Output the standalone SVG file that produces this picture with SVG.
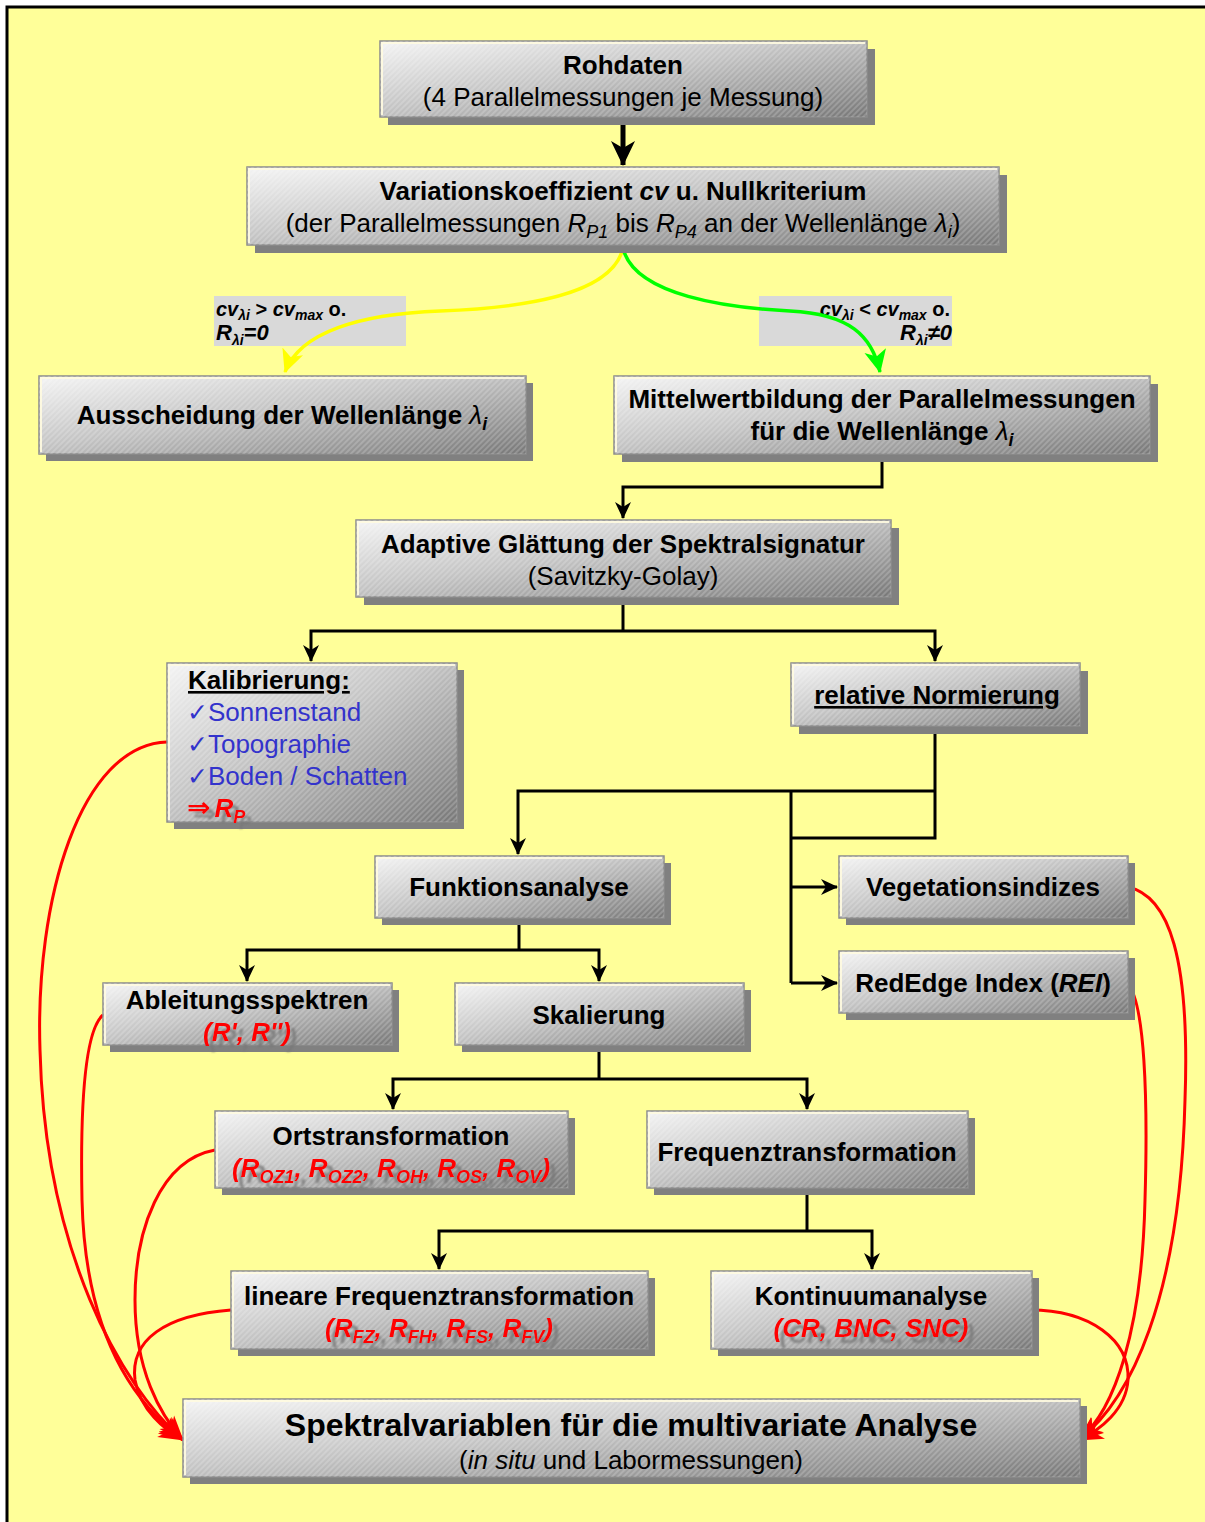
<svg xmlns="http://www.w3.org/2000/svg" width="1205" height="1522" viewBox="0 0 1205 1522">
  <defs>
    <style>
      .t  { font-family: "Liberation Sans", Arial, sans-serif; font-size: 26px; fill: #000; text-anchor: middle; }
      .big { font-size: 32px; }
      .b  { font-weight: bold; }
      .i  { font-style: italic; }
      .st { text-anchor: start; }
      .red { fill: #ff0000; font-weight: bold; font-style: italic; filter: url(#tshadow); }
      .blue { fill: #3333cc; }
      .chk { font-family: "DejaVu Sans", sans-serif; font-size: 25px; }
      .arw { font-family: "DejaVu Sans", sans-serif; font-size: 28px; font-style: normal; font-weight: bold; }
      .sub { font-size: 18px; }
      .lbl { font-family: "Liberation Sans", Arial, sans-serif; font-size: 20px; font-weight: bold; fill: #000; }
      .lsub { font-size: 14px; font-style: italic; }
      .lbig { font-size: 22px; font-style: italic; }
      .shadow { fill: #808080; }
      .box { fill: url(#boxgrad); stroke: #8c8c8c; stroke-width: 1.5; }
      .tex { fill: url(#hatch); }
      .hl  { fill: none; stroke: #fffbe0; stroke-width: 2; stroke-opacity: 0.9; }
      .conn { fill: none; stroke: #000; stroke-width: 3; }
      .rc { fill: none; stroke: #ff0000; stroke-width: 3; marker-end: url(#arrRed); }
      .tag { fill: #d9d9d9; }
    </style>
    <linearGradient id="boxgrad" x1="0" y1="0" x2="1" y2="1">
      <stop offset="0" stop-color="#f4f4f4"/>
      <stop offset="0.45" stop-color="#c4c4c4"/>
      <stop offset="1" stop-color="#787878"/>
    </linearGradient>
    <pattern id="hatch" width="4" height="4" patternUnits="userSpaceOnUse" patternTransform="rotate(45)">
      <path d="M1,0 L1,4" stroke="#ffffff" stroke-opacity="0.3" stroke-width="1.2"/>
    </pattern>
    <filter id="tshadow" x="-10%" y="-30%" width="130%" height="180%">
      <feOffset in="SourceAlpha" dx="6" dy="6" result="off"/>
      <feGaussianBlur in="off" stdDeviation="1" result="bl"/>
      <feFlood flood-color="#777777" flood-opacity="0.8"/>
      <feComposite in2="bl" operator="in" result="sh"/>
      <feMerge><feMergeNode in="sh"/><feMergeNode in="SourceGraphic"/></feMerge>
    </filter>
    <marker id="arrBlk" markerUnits="userSpaceOnUse" markerWidth="18" markerHeight="18" refX="16" refY="9" orient="auto">
      <path d="M0,1 L17,9 L0,17 L5,9 z" fill="#000"/>
    </marker>
    <marker id="arrBlkL" markerUnits="userSpaceOnUse" markerWidth="26" markerHeight="26" refX="24" refY="13" orient="auto">
      <path d="M0,1 L25,13 L0,25 L7,13 z" fill="#000"/>
    </marker>
    <marker id="arrYel" markerUnits="userSpaceOnUse" markerWidth="24" markerHeight="24" refX="22" refY="12" orient="auto">
      <path d="M0,1 L23,12 L0,23 L6,12 z" fill="#ffff00"/>
    </marker>
    <marker id="arrGrn" markerUnits="userSpaceOnUse" markerWidth="24" markerHeight="24" refX="22" refY="12" orient="auto">
      <path d="M0,1 L23,12 L0,23 L6,12 z" fill="#00ff00"/>
    </marker>
    <marker id="arrRed" markerUnits="userSpaceOnUse" markerWidth="26" markerHeight="22" refX="24" refY="11" orient="auto">
      <path d="M0,1 L25,11 L0,21 L7,11 z" fill="#ff0000"/>
    </marker>
  </defs>

  <!-- page background and frame -->
  <rect x="0" y="0" width="1205" height="1522" fill="#ffffff"/>
  <rect x="7" y="7" width="1212" height="1530" fill="#ffff99" stroke="#000" stroke-width="3"/>

  <!-- condition tags (drawn below the branch curves) -->
  <g id="tag-reject">
    <rect class="tag" x="214" y="296" width="192" height="50"/>
    <text class="lbl" x="216" y="316"><tspan font-style="italic">cv</tspan><tspan class="lsub" dy="4">λi</tspan><tspan dy="-4"> &gt; </tspan><tspan font-style="italic">cv</tspan><tspan class="lsub" dy="4">max</tspan><tspan dy="-4"> o.</tspan></text>
    <text class="lbl" x="216" y="340"><tspan class="lbig">R</tspan><tspan class="lsub" dy="5">λi</tspan><tspan class="lbig" dy="-5">=0</tspan></text>
  </g>
  <g id="tag-accept">
    <rect class="tag" x="759" y="296" width="193" height="50"/>
    <text class="lbl" x="950" y="316" text-anchor="end"><tspan font-style="italic">cv</tspan><tspan class="lsub" dy="4">λi</tspan><tspan dy="-4"> &lt; </tspan><tspan font-style="italic">cv</tspan><tspan class="lsub" dy="4">max</tspan><tspan dy="-4"> o.</tspan></text>
    <text class="lbl" x="952" y="340" text-anchor="end"><tspan class="lbig">R</tspan><tspan class="lsub" dy="5">λi</tspan><tspan class="lbig" dy="-5">≠0</tspan></text>
  </g>

  <!-- connectors -->
  <g id="connectors">
    <path d="M623,117 L623,165" fill="none" stroke="#000" stroke-width="5" marker-end="url(#arrBlkL)"/>
    <path d="M623,248 C612,296 520,308 440,311 C360,314 300,332 285,372" fill="none" stroke="#ffff00" stroke-width="3.5" marker-end="url(#arrYel)"/>
    <path d="M623,248 C634,296 730,308 790,311 C850,314 872,336 880,372" fill="none" stroke="#00ff00" stroke-width="3.5" marker-end="url(#arrGrn)"/>
    <path class="conn" d="M882,455 L882,487 L623,487 L623,518" marker-end="url(#arrBlk)"/>
    <path class="conn" d="M623,597 L623,631"/>
    <path class="conn" d="M623,631 L311,631 L311,661" marker-end="url(#arrBlk)"/>
    <path class="conn" d="M623,631 L935,631 L935,661" marker-end="url(#arrBlk)"/>
    <path class="conn" d="M935,726 L935,838 L791,838"/>
    <path class="conn" d="M935,791 L518,791 L518,854" marker-end="url(#arrBlk)"/>
    <path class="conn" d="M791,791 L791,983"/>
    <path class="conn" d="M791,887 L837,887" marker-end="url(#arrBlk)"/>
    <path class="conn" d="M791,983 L837,983" marker-end="url(#arrBlk)"/>
    <path class="conn" d="M519,917 L519,950"/>
    <path class="conn" d="M519,950 L247,950 L247,981" marker-end="url(#arrBlk)"/>
    <path class="conn" d="M519,950 L599,950 L599,981" marker-end="url(#arrBlk)"/>
    <path class="conn" d="M599,1044 L599,1079"/>
    <path class="conn" d="M599,1079 L393,1079 L393,1109" marker-end="url(#arrBlk)"/>
    <path class="conn" d="M599,1079 L807,1079 L807,1109" marker-end="url(#arrBlk)"/>
    <path class="conn" d="M807,1187 L807,1231"/>
    <path class="conn" d="M807,1231 L439,1231 L439,1269" marker-end="url(#arrBlk)"/>
    <path class="conn" d="M807,1231 L872,1231 L872,1269" marker-end="url(#arrBlk)"/>
    <!-- red result links into the final box -->
    <path class="rc" d="M167,742 C80,745 35,900 40,1050 C45,1250 120,1385 183,1440"/>
    <path class="rc" d="M103,1015 C85,1030 80,1100 82,1200 C85,1330 130,1400 183,1440"/>
    <path class="rc" d="M215,1150 C160,1160 135,1230 135,1300 C135,1370 160,1415 183,1440"/>
    <path class="rc" d="M231,1310 C165,1315 130,1340 135,1380 C140,1410 165,1430 183,1440"/>
    <path class="rc" d="M1127,887 C1170,895 1190,960 1185,1100 C1180,1300 1130,1400 1079,1440"/>
    <path class="rc" d="M1127,983 C1145,1000 1148,1100 1145,1200 C1142,1330 1115,1410 1079,1440"/>
    <path class="rc" d="M1030,1310 C1090,1310 1130,1340 1128,1380 C1126,1410 1100,1430 1079,1440"/>
  </g>

  <!-- nodes -->
  <g id="rohdaten">
    <rect class="shadow" x="388" y="49" width="487" height="76"/>
    <rect class="box" x="380" y="41" width="487" height="76"/>
    <rect class="tex" x="380" y="41" width="487" height="76"/>
    <path class="hl" d="M382,115 L382,43 L865,43"/>
    <text class="t b" x="623" y="74">Rohdaten</text>
    <text class="t" x="623" y="106">(4 Parallelmessungen je Messung)</text>
  </g>

  <g id="variationskoeffizient">
    <rect class="shadow" x="255" y="175" width="752" height="78"/>
    <rect class="box" x="247" y="167" width="752" height="78"/>
    <rect class="tex" x="247" y="167" width="752" height="78"/>
    <path class="hl" d="M249,243 L249,169 L997,169"/>
    <text class="t b" x="623" y="200">Variationskoeffizient <tspan class="i">cv</tspan> u. Nullkriterium</text>
    <text class="t" x="623" y="232">(der Parallelmessungen <tspan class="i">R</tspan><tspan class="i sub" dy="6">P1</tspan><tspan dy="-6"> bis </tspan><tspan class="i">R</tspan><tspan class="i sub" dy="6">P4</tspan><tspan dy="-6"> an der Wellenlänge </tspan><tspan class="i">λ</tspan><tspan class="i sub" dy="6">i</tspan><tspan dy="-6">)</tspan></text>
  </g>

  <g id="ausscheidung">
    <rect class="shadow" x="46" y="383" width="487" height="78"/>
    <rect class="box" x="39" y="376" width="487" height="78"/>
    <rect class="tex" x="39" y="376" width="487" height="78"/>
    <path class="hl" d="M41,452 L41,378 L524,378"/>
    <text class="t b" x="282" y="424">Ausscheidung der Wellenlänge <tspan class="i" font-weight="normal">λ</tspan><tspan class="i sub" dy="6">i</tspan></text>
  </g>

  <g id="mittelwertbildung">
    <rect class="shadow" x="622" y="384" width="536" height="78"/>
    <rect class="box" x="614" y="376" width="536" height="78"/>
    <rect class="tex" x="614" y="376" width="536" height="78"/>
    <path class="hl" d="M616,452 L616,378 L1148,378"/>
    <text class="t b" x="882" y="408">Mittelwertbildung der Parallelmessungen</text>
    <text class="t b" x="882" y="440">für die Wellenlänge <tspan class="i" font-weight="normal">λ</tspan><tspan class="i sub" dy="6">i</tspan></text>
  </g>

  <g id="glaettung">
    <rect class="shadow" x="364" y="528" width="535" height="77"/>
    <rect class="box" x="356" y="520" width="535" height="77"/>
    <rect class="tex" x="356" y="520" width="535" height="77"/>
    <path class="hl" d="M358,595 L358,522 L889,522"/>
    <text class="t b" x="623" y="553">Adaptive Glättung der Spektralsignatur</text>
    <text class="t" x="623" y="585">(Savitzky-Golay)</text>
  </g>

  <g id="kalibrierung">
    <rect class="shadow" x="174" y="670" width="290" height="159"/>
    <rect class="box" x="167" y="663" width="290" height="159"/>
    <rect class="tex" x="167" y="663" width="290" height="159"/>
    <path class="hl" d="M169,820 L169,665 L455,665"/>
    <text class="t b st" x="188" y="689" text-decoration="underline">Kalibrierung:</text>
    <text class="t st blue" x="187" y="721"><tspan class="chk">✓</tspan>Sonnenstand</text>
    <text class="t st blue" x="187" y="753"><tspan class="chk">✓</tspan>Topographie</text>
    <text class="t st blue" x="187" y="785"><tspan class="chk">✓</tspan>Boden / Schatten</text>
    <text class="t st red" x="187" y="817"><tspan class="arw">⇒</tspan><tspan dx="4">R</tspan><tspan class="sub" dy="6">P</tspan></text>
  </g>

  <g id="normierung">
    <rect class="shadow" x="799" y="671" width="289" height="63"/>
    <rect class="box" x="791" y="663" width="289" height="63"/>
    <rect class="tex" x="791" y="663" width="289" height="63"/>
    <path class="hl" d="M793,724 L793,665 L1078,665"/>
    <text class="t b" x="937" y="704" text-decoration="underline">relative Normierung</text>
  </g>

  <g id="funktionsanalyse">
    <rect class="shadow" x="382" y="863" width="289" height="62"/>
    <rect class="box" x="375" y="856" width="289" height="62"/>
    <rect class="tex" x="375" y="856" width="289" height="62"/>
    <path class="hl" d="M377,916 L377,858 L662,858"/>
    <text class="t b" x="519" y="896">Funktionsanalyse</text>
  </g>

  <g id="vegetationsindizes">
    <rect class="shadow" x="846" y="863" width="289" height="62"/>
    <rect class="box" x="839" y="856" width="289" height="62"/>
    <rect class="tex" x="839" y="856" width="289" height="62"/>
    <path class="hl" d="M841,916 L841,858 L1126,858"/>
    <text class="t b" x="983" y="896">Vegetationsindizes</text>
  </g>

  <g id="rededge">
    <rect class="shadow" x="846" y="958" width="289" height="62"/>
    <rect class="box" x="839" y="951" width="289" height="62"/>
    <rect class="tex" x="839" y="951" width="289" height="62"/>
    <path class="hl" d="M841,1011 L841,953 L1126,953"/>
    <text class="t b" x="983" y="992">RedEdge Index (<tspan class="i">REI</tspan>)</text>
  </g>

  <g id="ableitungsspektren">
    <rect class="shadow" x="110" y="990" width="289" height="62"/>
    <rect class="box" x="103" y="983" width="289" height="62"/>
    <rect class="tex" x="103" y="983" width="289" height="62"/>
    <path class="hl" d="M105,1043 L105,985 L390,985"/>
    <text class="t b" x="247" y="1009">Ableitungsspektren</text>
    <text class="t red" x="247" y="1041">(R', R'')</text>
  </g>

  <g id="skalierung">
    <rect class="shadow" x="462" y="990" width="289" height="62"/>
    <rect class="box" x="455" y="983" width="289" height="62"/>
    <rect class="tex" x="455" y="983" width="289" height="62"/>
    <path class="hl" d="M457,1043 L457,985 L742,985"/>
    <text class="t b" x="599" y="1024">Skalierung</text>
  </g>

  <g id="ortstransformation">
    <rect class="shadow" x="222" y="1118" width="353" height="77"/>
    <rect class="box" x="215" y="1111" width="353" height="77"/>
    <rect class="tex" x="215" y="1111" width="353" height="77"/>
    <path class="hl" d="M217,1186 L217,1113 L566,1113"/>
    <text class="t b" x="391" y="1145">Ortstransformation</text>
    <text class="t red" x="391" y="1177">(R<tspan class="sub" dy="6">OZ1</tspan><tspan dy="-6">, R</tspan><tspan class="sub" dy="6">OZ2</tspan><tspan dy="-6">, R</tspan><tspan class="sub" dy="6">OH</tspan><tspan dy="-6">, R</tspan><tspan class="sub" dy="6">OS</tspan><tspan dy="-6">, R</tspan><tspan class="sub" dy="6">OV</tspan><tspan dy="-6">)</tspan></text>
  </g>

  <g id="frequenztransformation">
    <rect class="shadow" x="654" y="1118" width="321" height="77"/>
    <rect class="box" x="647" y="1111" width="321" height="77"/>
    <rect class="tex" x="647" y="1111" width="321" height="77"/>
    <path class="hl" d="M649,1186 L649,1113 L966,1113"/>
    <text class="t b" x="807" y="1161">Frequenztransformation</text>
  </g>

  <g id="lineare-frequenztransformation">
    <rect class="shadow" x="238" y="1278" width="417" height="78"/>
    <rect class="box" x="231" y="1271" width="417" height="78"/>
    <rect class="tex" x="231" y="1271" width="417" height="78"/>
    <path class="hl" d="M233,1347 L233,1273 L646,1273"/>
    <text class="t b" x="439" y="1305">lineare Frequenztransformation</text>
    <text class="t red" x="439" y="1337">(R<tspan class="sub" dy="6">FZ</tspan><tspan dy="-6">, R</tspan><tspan class="sub" dy="6">FH</tspan><tspan dy="-6">, R</tspan><tspan class="sub" dy="6">FS</tspan><tspan dy="-6">, R</tspan><tspan class="sub" dy="6">FV</tspan><tspan dy="-6">)</tspan></text>
  </g>

  <g id="kontinuumanalyse">
    <rect class="shadow" x="718" y="1278" width="321" height="78"/>
    <rect class="box" x="711" y="1271" width="321" height="78"/>
    <rect class="tex" x="711" y="1271" width="321" height="78"/>
    <path class="hl" d="M713,1347 L713,1273 L1030,1273"/>
    <text class="t b" x="871" y="1305">Kontinuumanalyse</text>
    <text class="t red" x="871" y="1337">(CR, BNC, SNC)</text>
  </g>

  <g id="spektralvariablen">
    <rect class="shadow" x="190" y="1406" width="897" height="78"/>
    <rect class="box" x="183" y="1399" width="897" height="78"/>
    <rect class="tex" x="183" y="1399" width="897" height="78"/>
    <path class="hl" d="M185,1475 L185,1401 L1078,1401"/>
    <text class="t b big" x="631" y="1436">Spektralvariablen für die multivariate Analyse</text>
    <text class="t" x="631" y="1469">(<tspan class="i">in situ</tspan> und Labormessungen)</text>
  </g>
</svg>
